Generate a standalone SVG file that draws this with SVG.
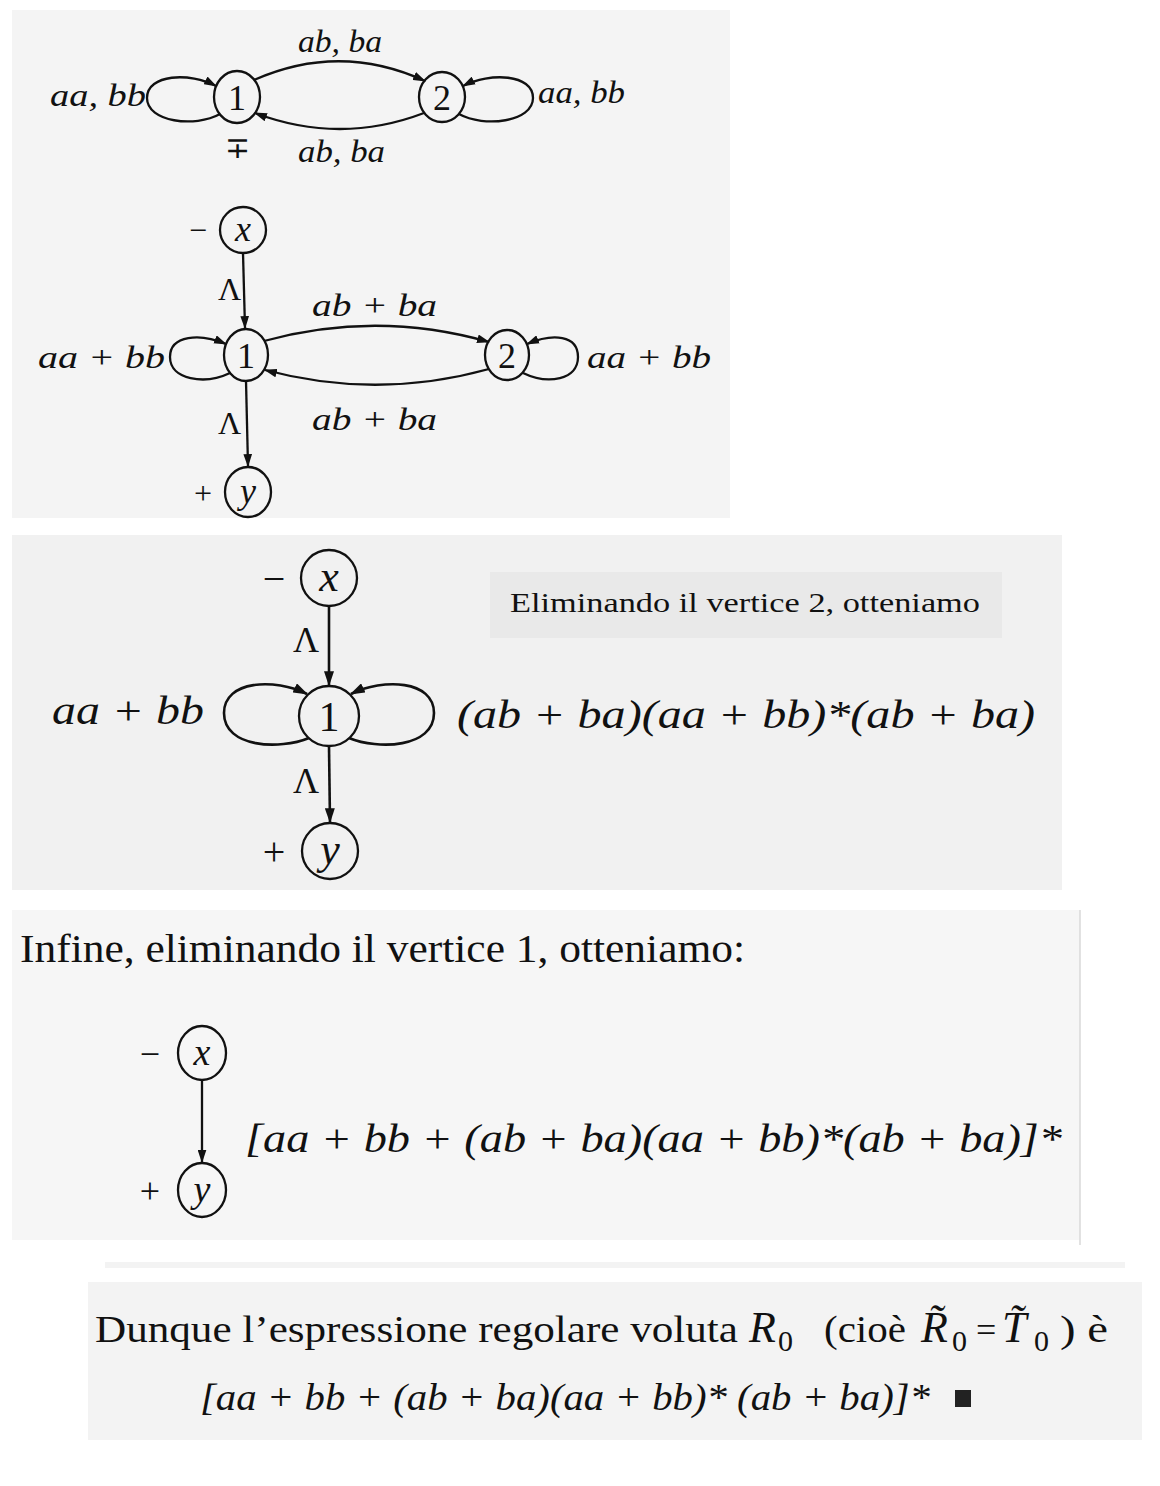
<svg xmlns="http://www.w3.org/2000/svg" width="1160" height="1486" viewBox="0 0 1160 1486">
<defs>
<style>
.bg{fill:#ffffff}
.panel{stroke:none}
.nd{fill:none;stroke:#111;stroke-width:2.3}
.ln{fill:none;stroke:#111;stroke-width:2.3}
.ln3{fill:none;stroke:#111;stroke-width:2.6}
.it{font-family:"Liberation Serif","Times New Roman",serif;font-style:italic;fill:#111}
.rm{font-family:"Liberation Serif","Times New Roman",serif;font-style:normal;fill:#111}
.c{text-anchor:middle}
</style>
<marker id="arr" viewBox="0 0 12 8" refX="11" refY="4" markerWidth="13" markerHeight="9" orient="auto" markerUnits="userSpaceOnUse"><path d="M0,0 L12,4 L0,8 z" fill="#111"/></marker>
<marker id="arrL" viewBox="0 0 12 8" refX="11" refY="4" markerWidth="15" markerHeight="10" orient="auto" markerUnits="userSpaceOnUse"><path d="M0,0 L12,4 L0,8 z" fill="#111"/></marker>
</defs>
<rect class="bg" x="0" y="0" width="1160" height="1486"/>
<rect class="panel" x="12" y="10" width="718" height="508" fill="#f4f4f4"/>
<rect class="panel" x="12" y="535" width="1050" height="355" fill="#f1f1f1"/>
<rect class="panel" x="490" y="572" width="512" height="66" fill="#e9e9e9"/>
<rect class="panel" x="12" y="910" width="1068" height="330" fill="#f6f6f6"/>
<line x1="1080" y1="910" x2="1080" y2="1245" stroke="#d8d8d8" stroke-width="1.5"/>
<rect class="panel" x="105" y="1262" width="1020" height="6" fill="#f3f3f3"/>
<rect class="panel" x="88" y="1282" width="1054" height="158" fill="#f3f3f3"/>

<!-- Diagram 1 -->
<g id="d1-n1"><ellipse class="nd" cx="237" cy="97" rx="23" ry="26"/><text class="rm c" x="237" y="110" font-size="36">1</text><text class="rm c" x="237" y="158" font-size="30">∓</text></g>
<g id="d1-n2"><ellipse class="nd" cx="442" cy="97" rx="23" ry="25"/><text class="rm c" x="442" y="110" font-size="36">2</text></g>
<g id="d1-edges">
<path class="ln" d="M220,114 C195,128 147,122 147,98 C147,74 190,72 216,86" marker-end="url(#arr)"/>
<path class="ln" d="M459,114 C484,128 533,122 533,98 C533,74 490,72 463,86" marker-end="url(#arr)"/>
<path class="ln" d="M254,80 Q340,42 425,81" marker-end="url(#arr)"/>
<path class="ln" d="M424,113 Q340,145 255,113" marker-end="url(#arr)"/>
</g>
<g id="d1-labels">
<text class="it" x="298" y="52" font-size="32" textLength="84" lengthAdjust="spacingAndGlyphs">ab, ba</text>
<text class="it" x="298" y="162" font-size="32" textLength="87" lengthAdjust="spacingAndGlyphs">ab, ba</text>
<text class="it" x="50" y="106" font-size="32" textLength="96" lengthAdjust="spacingAndGlyphs">aa, bb</text>
<text class="it" x="538" y="103" font-size="32" textLength="87" lengthAdjust="spacingAndGlyphs">aa, bb</text>
</g>

<!-- Diagram 2 -->
<g id="d2-x"><circle class="nd" cx="243" cy="230" r="23"/><text class="it c" x="243" y="241" font-size="36">x</text><text class="rm c" x="198" y="241" font-size="32">−</text></g>
<g id="d2-n1"><ellipse class="nd" cx="246" cy="355" rx="22" ry="26"/><text class="rm c" x="246" y="368" font-size="36">1</text></g>
<g id="d2-n2"><ellipse class="nd" cx="507" cy="355" rx="22" ry="25"/><text class="rm c" x="507" y="368" font-size="36">2</text></g>
<g id="d2-y"><ellipse class="nd" cx="248" cy="492" rx="23" ry="25"/><text class="it c" x="248" y="503" font-size="36">y</text><text class="rm c" x="203" y="504" font-size="32">+</text></g>
<g id="d2-edges">
<path class="ln" d="M243,253 L245,328" marker-end="url(#arr)"/>
<path class="ln" d="M246,381 L248,466" marker-end="url(#arr)"/>
<path class="ln" d="M230,373 C205,385 170,380 170,357 C170,335 200,333 226,344" marker-end="url(#arr)"/>
<path class="ln" d="M523,373 C548,385 578,380 578,357 C578,335 553,333 527,344" marker-end="url(#arr)"/>
<path class="ln" d="M264,341 Q377,310 489,342" marker-end="url(#arr)"/>
<path class="ln" d="M489,369 Q377,400 265,370" marker-end="url(#arr)"/>
</g>
<g id="d2-labels">
<text class="rm" x="218" y="300" font-size="32">Λ</text>
<text class="rm" x="218" y="434" font-size="32">Λ</text>
<text class="it" x="312" y="316" font-size="32" textLength="125" lengthAdjust="spacingAndGlyphs">ab + ba</text>
<text class="it" x="312" y="430" font-size="32" textLength="125" lengthAdjust="spacingAndGlyphs">ab + ba</text>
<text class="it" x="38" y="368" font-size="32" textLength="127" lengthAdjust="spacingAndGlyphs">aa + bb</text>
<text class="it" x="587" y="368" font-size="32" textLength="124" lengthAdjust="spacingAndGlyphs">aa + bb</text>
</g>

<!-- Diagram 3 -->
<g id="d3-x"><circle class="nd" cx="329" cy="578" r="28" stroke-width="2.6"/><text class="it c" x="329" y="591" font-size="44">x</text><text class="rm c" x="274" y="592" font-size="40">−</text></g>
<g id="d3-n1"><circle class="nd" cx="329" cy="716" r="30" stroke-width="2.6"/><text class="rm c" x="329" y="731" font-size="42">1</text></g>
<g id="d3-y"><circle class="nd" cx="330" cy="851" r="28" stroke-width="2.6"/><text class="it c" x="330" y="864" font-size="44">y</text><text class="rm c" x="274" y="865" font-size="40">+</text></g>
<g id="d3-edges">
<path class="ln3" d="M329,606 L329,685" marker-end="url(#arrL)"/>
<path class="ln3" d="M329,746 L330,822" marker-end="url(#arrL)"/>
<path class="ln3" d="M309,738 C280,750 224,748 224,713 C224,680 275,678 307,694" marker-end="url(#arrL)"/>
<path class="ln3" d="M349,738 C378,750 434,748 434,713 C434,680 383,678 351,694" marker-end="url(#arrL)"/>
</g>
<g id="d3-labels">
<text class="rm" x="293" y="652" font-size="36">Λ</text>
<text class="rm" x="293" y="793" font-size="36">Λ</text>
<text class="it" x="52" y="724" font-size="40" textLength="152" lengthAdjust="spacingAndGlyphs">aa + bb</text>
<text class="it" x="457" y="728" font-size="40" textLength="578" lengthAdjust="spacingAndGlyphs">(ab + ba)(aa + bb)*(ab + ba)</text>
<text class="rm" x="510" y="612" font-size="28" textLength="470" lengthAdjust="spacingAndGlyphs">Eliminando il vertice 2, otteniamo</text>
</g>

<!-- Panel 4 -->
<text class="rm" x="20" y="962" font-size="40" textLength="725" lengthAdjust="spacingAndGlyphs">Infine, eliminando il vertice 1, otteniamo:</text>
<g id="d4-x"><ellipse class="nd" cx="202" cy="1053" rx="24" ry="27"/><text class="it c" x="202" y="1065" font-size="38">x</text><text class="rm c" x="150" y="1066" font-size="36">−</text></g>
<g id="d4-y"><ellipse class="nd" cx="202" cy="1190" rx="24" ry="27"/><text class="it c" x="202" y="1202" font-size="38">y</text><text class="rm c" x="150" y="1203" font-size="36">+</text></g>
<g id="d4-edges">
<path class="ln" d="M202,1080 L202,1162" marker-end="url(#arr)"/>
</g>
<text class="it" x="245" y="1152" font-size="40" textLength="817" lengthAdjust="spacingAndGlyphs">[aa + bb + (ab + ba)(aa + bb)*(ab + ba)]*</text>

<!-- Panel 5 -->
<text class="rm" x="95" y="1342" font-size="38" textLength="643" lengthAdjust="spacingAndGlyphs">Dunque l’espressione regolare voluta</text>
<text class="it" x="749" y="1342" font-size="44">R</text>
<text class="rm" x="778" y="1351" font-size="30">0</text>
<text class="rm" x="824" y="1342" font-size="38" textLength="82" lengthAdjust="spacingAndGlyphs">(cioè</text>
<text class="it" x="921" y="1342" font-size="44">R&#x303;</text>
<text class="rm" x="952" y="1351" font-size="30">0</text>
<text class="rm" x="976" y="1342" font-size="36">=</text>
<text class="it" x="1002" y="1342" font-size="44">T&#x303;</text>
<text class="rm" x="1034" y="1351" font-size="30">0</text>
<text class="rm" x="1060" y="1342" font-size="38" textLength="48" lengthAdjust="spacingAndGlyphs">) è</text>
<text class="it" x="200" y="1410" font-size="38" textLength="730" lengthAdjust="spacingAndGlyphs">[aa + bb + (ab + ba)(aa + bb)* (ab + ba)]*</text>
<rect x="955" y="1390" width="16" height="17" fill="#222"/>
</svg>
